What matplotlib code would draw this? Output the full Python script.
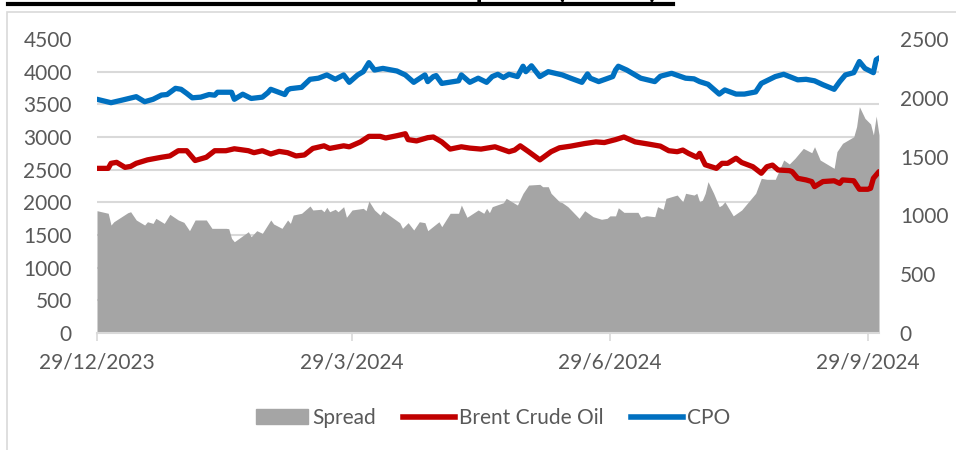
import matplotlib.pyplot as plt
import matplotlib.patches as mpatches
from matplotlib.lines import Line2D
import numpy as np
import pandas as pd

# days counted from 29/12/2023
start = pd.Timestamp("2023-12-29")

cpo_days = [0, 5, 9, 14, 17, 20, 23, 25, 28, 30, 32, 34, 37, 40, 42, 43, 48, 49, 52, 55,
            59, 61, 62, 67, 68, 69, 73, 76, 79, 82, 85, 88, 90, 93, 95, 97, 99, 102, 107,
            110, 113, 117, 118, 120, 121, 123, 129, 130, 133, 136, 139, 141, 143, 145, 147,
            150, 152, 153, 155, 158, 161, 166, 169, 173, 175, 176, 179, 184, 185, 186, 189,
            194, 199, 201, 205, 210, 213, 215, 218, 222, 224, 228, 231, 235, 237, 240, 242,
            245, 250, 253, 256, 259, 263, 265, 267, 270, 272, 274, 277, 278, 279]
cpo = [3577, 3525, 3565, 3617, 3540, 3577, 3642, 3650, 3745, 3730, 3668, 3600, 3610, 3650,
       3640, 3685, 3685, 3577, 3655, 3590, 3610, 3680, 3730, 3650, 3720, 3740, 3760, 3883,
       3900, 3950, 3883, 3950, 3837, 3950, 4000, 4138, 4025, 4050, 4010, 3950, 3837, 3950,
       3848, 3925, 3940, 3820, 3860, 3950, 3837, 3900, 3837, 3925, 3960, 3910, 3960, 3925,
       4083, 4000, 4090, 3925, 4000, 3950, 3900, 3837, 3965, 3900, 3848, 3925, 4025, 4083,
       4025, 3900, 3848, 3930, 3975, 3900, 3890, 3848, 3807, 3657, 3720, 3657, 3657, 3690,
       3820, 3883, 3925, 3960, 3875, 3883, 3860, 3800, 3730, 3848, 3950, 3985, 4155, 4050,
       3985, 4183, 4210]

brent_days = [0, 4, 5, 7, 10, 12, 14, 18, 23, 26, 29, 32, 35, 39, 42, 46, 49, 54, 56, 59,
              62, 65, 68, 71, 74, 77, 81, 83, 88, 90, 94, 97, 101, 103, 107, 110, 111, 114,
              118, 120, 123, 126, 130, 133, 137, 142, 147, 149, 151, 154, 158, 162, 165, 169,
              174, 178, 181, 185, 188, 192, 197, 201, 204, 207, 209, 211, 214, 215, 217, 221,
              223, 225, 228, 230, 234, 237, 239, 241, 243, 247, 248, 250, 253, 255, 256, 259,
              263, 265, 266, 270, 272, 275, 276, 277, 279]
brent = [2520, 2520, 2597, 2612, 2535, 2550, 2597, 2650, 2690, 2710, 2790, 2790, 2640, 2690,
         2790, 2790, 2820, 2790, 2760, 2790, 2740, 2780, 2760, 2710, 2725, 2825, 2865, 2825,
         2865, 2850, 2925, 3010, 3010, 2985, 3020, 3050, 2960, 2940, 2990, 3000, 2925, 2815,
         2850, 2830, 2815, 2850, 2775, 2800, 2865, 2775, 2650, 2775, 2835, 2860, 2900, 2925,
         2915, 2960, 3000, 2925, 2890, 2860, 2790, 2775, 2800, 2750, 2690, 2750, 2575, 2520,
         2597, 2597, 2675, 2610, 2545, 2445, 2545, 2570, 2495, 2485, 2470, 2368, 2343, 2318,
         2240, 2318, 2330, 2290, 2343, 2330, 2200, 2200, 2215, 2368, 2470]

spread_days = [0, 4, 5, 6, 11, 12, 14, 17, 18, 20, 21, 24, 26, 29, 31, 33, 35, 39, 41, 46,
               47, 48, 49, 54, 55, 57, 59, 62, 63, 66, 68, 69, 70, 73, 76, 77, 80, 81, 82, 83,
               85, 86, 88, 89, 91, 95, 96, 97, 99, 101, 102, 108, 109, 111, 113, 115, 117, 118,
               122, 123, 126, 129, 130, 132, 136, 138, 139, 140, 141, 145, 146, 150, 152, 154,
               158, 159, 161, 162, 165, 166, 168, 172, 174, 177, 180, 182, 183, 185, 186, 188,
               193, 194, 196, 199, 200, 202, 203, 207, 209, 210, 213, 214, 215, 216, 217, 218,
               220, 222, 223, 224, 227, 230, 235, 237, 239, 242, 245, 247, 249, 252, 255, 256,
               258, 263, 264, 266, 270, 271, 272, 274, 276, 277, 278, 279]
spread = [1040, 1018, 918, 946, 1023, 1031, 961, 918, 946, 932, 975, 932, 1009, 961, 941, 870,
          961, 961, 890, 890, 887, 805, 776, 861, 819, 870, 848, 961, 927, 890, 961, 932, 1003,
          1018, 1080, 1046, 1052, 1031, 1069, 1031, 1052, 1031, 1074, 984, 1046, 1060, 1040,
          1122, 1046, 1003, 1040, 938, 890, 938, 876, 946, 938, 870, 946, 904, 1018, 1018, 1088,
          984, 1046, 1018, 1060, 1023, 1074, 1108, 1145, 1088, 1188, 1258, 1264, 1244, 1244,
          1188, 1116, 1108, 1074, 975, 1040, 989, 967, 975, 996, 996, 1065, 1026, 1026, 984,
          997, 989, 1074, 1052, 1145, 1173, 1116, 1188, 1173, 1188, 1116, 1130, 1188, 1287,
          1188, 1074, 1088, 1116, 996, 1046, 1188, 1315, 1307, 1307, 1471, 1437, 1485, 1570,
          1533, 1584, 1471, 1400, 1542, 1613, 1669, 1754, 1924, 1825, 1777, 1684, 1845, 1684]

tick_dates = ["2023-12-29", "2024-03-29", "2024-06-29", "2024-09-29"]
tick_labels = ["29/12/2023", "29/3/2024", "29/6/2024", "29/9/2024"]

cpo_x = start + pd.to_timedelta(cpo_days, unit="D")
brent_x = start + pd.to_timedelta(brent_days, unit="D")
spread_x = start + pd.to_timedelta(spread_days, unit="D")

plt.rcParams["font.family"] = ["Lato", "DejaVu Sans"]
text_col = "#595959"
fs = 15

fig = plt.figure(figsize=(9.56, 4.5), dpi=100)

# chart frame and the title, which is cropped off at the top in the source
fig.add_artist(mpatches.Rectangle((7 / 956, -0.01), 1.0, 1 - 12 / 450 + 0.01,
                                  transform=fig.transFigure, fill=False,
                                  edgecolor="#D9D9D9", linewidth=1.2))
fig.text(10 / 956, 1 + 1.5 / 450, "CPO vs Brent Crude Oil: Price and Spread (USD/t)",
         fontsize=21, fontweight="bold", color="black", ha="left", va="baseline")
fig.add_artist(Line2D([8 / 956, 673 / 956], [1 - 3.5 / 450] * 2,
                      transform=fig.transFigure, color="black", linewidth=3))

# spread on the secondary (right) scale, drawn underneath
ax_s = fig.add_axes([97 / 956, 1 - 333 / 450, (879 - 97) / 956, (333 - 39) / 450])
ax_s.fill_between(spread_x, spread, color="#A5A5A5", linewidth=0, zorder=2)

# prices on the primary (left) scale, on top
ax_p = ax_s.twinx()
ax_p.plot(brent_x, brent, color="#C00000", linewidth=3.8, solid_capstyle="round")
ax_p.plot(cpo_x, cpo, color="#0070C0", linewidth=3.8, solid_capstyle="round")

ax_s.set_ylim(0, 2500)
ax_s.set_yticks(np.arange(0, 2501, 500))
ax_s.set_yticks(np.linspace(0, 2500, 10), minor=True)
ax_s.yaxis.tick_right()
ax_s.grid(axis="y", which="minor", color="#D9D9D9", linewidth=1.5, zorder=0)
ax_s.set_axisbelow(True)
ax_s.tick_params(axis="y", which="both", length=0, labelsize=fs, labelcolor=text_col, pad=15)
ax_s.set_xlim(start, spread_x[-1])
ax_s.set_xticks(pd.to_datetime(tick_dates))
ax_s.set_xticklabels(tick_labels)
ax_s.tick_params(axis="x", length=6, color="#D9D9D9", width=1.2, labelsize=fs,
                 labelcolor=text_col, pad=8)
for side in ["top", "left", "right"]:
    ax_s.spines[side].set_visible(False)
ax_s.spines["bottom"].set_color("#D9D9D9")
ax_s.spines["bottom"].set_linewidth(1.5)

ax_p.set_ylim(0, 4500)
ax_p.set_yticks(np.arange(0, 4501, 500))
ax_p.yaxis.tick_left()
ax_p.tick_params(axis="y", length=0, labelsize=fs, labelcolor=text_col, pad=18)
for side in ["top", "left", "right", "bottom"]:
    ax_p.spines[side].set_visible(False)
ax_p.set_xlim(start, spread_x[-1])

handles = [mpatches.Patch(color="#A5A5A5", label="Spread"),
           Line2D([], [], color="#C00000", linewidth=4, label="Brent Crude Oil"),
           Line2D([], [], color="#0070C0", linewidth=4, label="CPO")]
leg = fig.legend(handles=handles, loc="center", bbox_to_anchor=(0.516, 1 - 418 / 450),
                 ncol=3, frameon=False, fontsize=fs, handlelength=2.5,
                 handletextpad=0.2, columnspacing=1.3)
for t in leg.get_texts():
    t.set_color(text_col)

fig.savefig("out.png", dpi=100)
